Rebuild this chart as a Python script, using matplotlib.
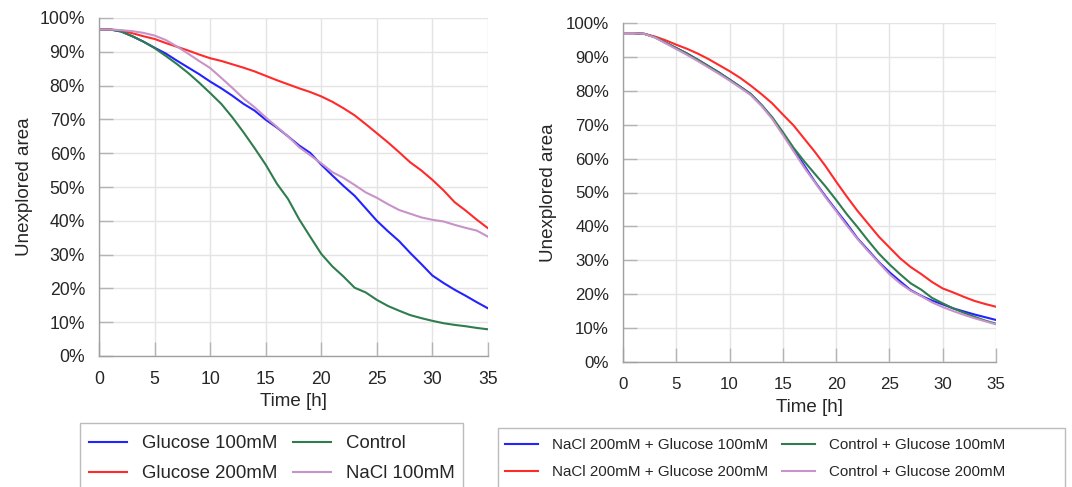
import matplotlib as mpl
import matplotlib.pyplot as plt
from matplotlib.patches import Rectangle
from matplotlib.ticker import FuncFormatter

hours = list(range(36))

# left panel
glucose_100 = [96.6, 96.6, 96.0, 94.6, 93.0, 91.2, 89.5, 87.4, 85.4, 83.4, 81.2, 79.2,
               77.0, 74.6, 72.6, 69.9, 67.6, 65.0, 62.3, 60.1, 56.6, 53.4, 50.3, 47.4,
               43.7, 40.0, 36.9, 34.0, 30.5, 27.2, 23.8, 21.6, 19.6, 17.8, 15.9, 14.1]
glucose_200 = [96.6, 96.6, 96.3, 95.5, 94.6, 93.8, 92.6, 91.5, 90.4, 89.2, 88.1, 87.3,
               86.3, 85.3, 84.2, 82.9, 81.6, 80.4, 79.2, 78.1, 76.8, 75.2, 73.3, 71.2,
               68.6, 65.9, 63.2, 60.3, 57.3, 54.9, 52.1, 49.0, 45.5, 43.0, 40.3, 37.8]
control = [96.6, 96.6, 96.0, 94.6, 93.0, 91.1, 88.8, 86.4, 83.8, 80.9, 77.8, 74.6,
           70.6, 66.2, 61.5, 56.6, 51.0, 46.5, 40.5, 35.3, 30.2, 26.5, 23.5, 20.2,
           18.8, 16.6, 14.8, 13.4, 12.1, 11.2, 10.4, 9.7, 9.2, 8.8, 8.3, 7.9]
nacl_100 = [96.6, 96.6, 96.4, 96.1, 95.6, 94.8, 93.5, 91.6, 89.5, 87.3, 85.2, 82.3,
            79.3, 76.2, 73.6, 70.6, 67.8, 65.0, 61.8, 59.4, 57.0, 54.4, 52.7, 50.6,
            48.4, 46.8, 44.9, 43.2, 42.1, 41.0, 40.3, 39.8, 38.8, 37.9, 37.1, 35.3]

# right panel
nacl_g100 = [97.0, 97.0, 96.8, 95.8, 94.2, 92.6, 91.0, 89.2, 87.3, 85.4, 83.3, 81.2,
             79.0, 75.8, 72.0, 67.5, 62.7, 58.0, 53.2, 48.9, 44.8, 40.8, 36.5, 33.0,
             29.5, 26.5, 23.8, 21.2, 19.5, 18.1, 17.0, 15.8, 14.9, 14.0, 13.2, 12.4]
nacl_g200 = [97.0, 97.0, 96.8, 96.0, 94.9, 93.6, 92.4, 91.0, 89.4, 87.6, 85.8, 83.8,
             81.5, 79.0, 76.3, 73.0, 69.8, 65.9, 62.0, 57.8, 53.2, 48.8, 44.6, 40.8,
             37.0, 33.8, 30.6, 28.0, 25.9, 23.6, 21.7, 20.5, 19.2, 18.0, 17.1, 16.3]
control_g100 = [97.0, 97.0, 96.8, 95.8, 94.2, 92.6, 91.0, 89.2, 87.3, 85.4, 83.3, 81.2,
                79.0, 75.8, 72.2, 67.8, 63.2, 59.2, 55.5, 51.8, 47.8, 43.6, 39.8, 35.8,
                32.0, 28.8, 25.9, 23.2, 21.3, 18.9, 17.3, 15.8, 14.5, 13.3, 12.2, 11.3]
control_g200 = [97.0, 97.0, 96.8, 95.7, 94.0, 92.3, 90.6, 88.8, 86.9, 85.0, 83.0, 80.9,
                78.7, 75.5, 71.7, 67.0, 62.2, 57.4, 53.0, 48.6, 44.5, 40.3, 36.3, 32.7,
                29.3, 25.9, 23.2, 21.0, 19.4, 17.6, 16.2, 15.0, 13.9, 12.9, 12.0, 11.1]

BLUE = "#2323ff"
RED = "#ff2b2b"
GREEN = "#2f7d4e"
PURPLE = "#c893c8"

W, H = 1072, 487

mpl.rcParams.update(
    {
        "font.family": ["Liberation Sans", "DejaVu Sans"],
        "text.color": "#262626",
        "xtick.color": "#262626",
        "ytick.color": "#262626",
        "axes.labelcolor": "#262626",
    }
)


def style_axes(ax, tick_size):
    ax.set_xlim(0, 35)
    ax.set_ylim(0, 100)
    ax.set_xticks(range(0, 36, 5))
    ax.set_yticks(range(0, 101, 10))
    ax.yaxis.set_major_formatter(FuncFormatter(lambda v, _: f"{v:.0f}%"))
    ax.grid(True, color="#e4e4e4", linewidth=1.0)
    ax.set_axisbelow(True)
    for side in ("top", "right"):
        ax.spines[side].set_visible(False)
    for side in ("left", "bottom"):
        ax.spines[side].set_color("#a0a0a0")
        ax.spines[side].set_linewidth(1.0)
    ax.tick_params(axis="both", direction="in", length=10, width=1.0,
                   color="#b4b4b4", labelsize=tick_size)
    ax.tick_params(axis="x", pad=11)
    ax.tick_params(axis="y", pad=10)
    ax.set_xlabel("Time [h]", fontsize=13.5)
    ax.set_ylabel("Unexplored area", fontsize=13.5)


def px_axes(left, top, right, bottom):
    return [left / W, 1 - bottom / H, (right - left) / W, (bottom - top) / H]


fig = plt.figure(figsize=(W / 100, H / 100), dpi=100)

ax1 = fig.add_axes(px_axes(99, 18, 488, 356))
ax1.plot(hours, glucose_100, color=BLUE, lw=1.5, label="Glucose 100mM")
ax1.plot(hours, glucose_200, color=RED, lw=1.5, label="Glucose 200mM")
ax1.plot(hours, control, color=GREEN, lw=1.5, label="Control")
ax1.plot(hours, nacl_100, color=PURPLE, lw=1.5, label="NaCl 100mM")
style_axes(ax1, 12.7)
ax1.yaxis.set_label_coords(-0.170, 0.5)
ax1.xaxis.set_label_coords(0.5, -0.11)

ax2 = fig.add_axes(px_axes(623, 23, 996, 362))
ax2.plot(hours, nacl_g100, color=BLUE, lw=1.5, label="NaCl 200mM + Glucose 100mM")
ax2.plot(hours, nacl_g200, color=RED, lw=1.5, label="NaCl 200mM + Glucose 200mM")
ax2.plot(hours, control_g100, color=GREEN, lw=1.5, label="Control + Glucose 100mM")
ax2.plot(hours, control_g200, color=PURPLE, lw=1.5, label="Control + Glucose 200mM")
style_axes(ax2, 12.2)
ax2.yaxis.set_label_coords(-0.176, 0.5)
ax2.xaxis.set_label_coords(0.5, -0.11)

# legend boxes run past the bottom edge of the figure
for x0, y0, x1 in [(80, 423, 463), (498, 428, 1065)]:
    fig.patches.append(Rectangle((x0 / W, 1 - 500 / H), (x1 - x0) / W, (500 - y0) / H,
                                 transform=fig.transFigure, fill=False,
                                 edgecolor="#bcbcbc", linewidth=1.0))

h1, l1 = ax1.get_legend_handles_labels()
fig.legend(h1, l1, bbox_to_anchor=(89 / W, 1 - 435 / H), loc="upper left",
           ncol=2, frameon=False, fontsize=13.4, handlelength=2.05,
           handletextpad=0.8, columnspacing=0.85, labelspacing=0.7,
           borderpad=0, borderaxespad=0)
h2, l2 = ax2.get_legend_handles_labels()
fig.legend(h2, l2, bbox_to_anchor=(505 / W, 1 - 438 / H), loc="upper left",
           ncol=2, frameon=False, fontsize=10.9, handlelength=2.2,
           handletextpad=0.9, columnspacing=0.9, labelspacing=0.85,
           borderpad=0, borderaxespad=0)

fig.savefig("out.png", dpi=100)
